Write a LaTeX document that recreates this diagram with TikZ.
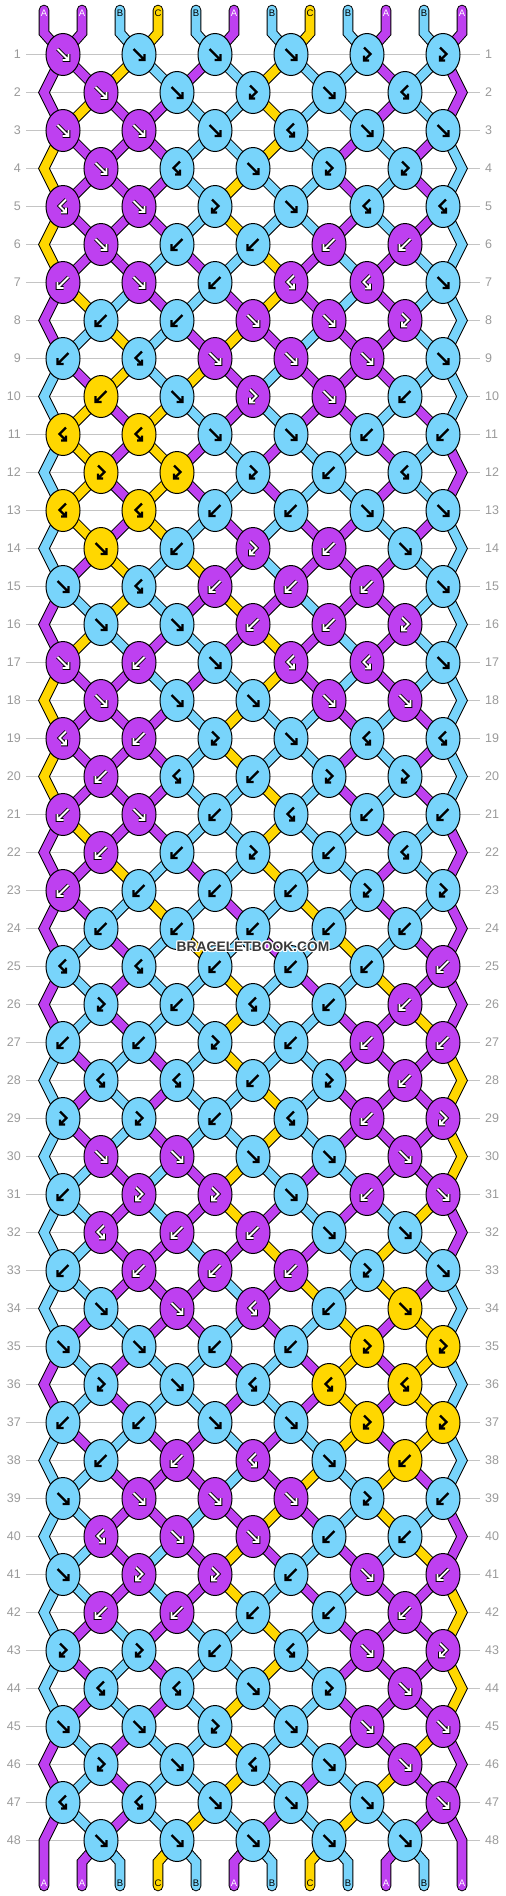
\documentclass[tikz,border=0pt]{standalone}
\usepackage{fontspec}
\setmainfont{Liberation Sans}
\usetikzlibrary{shapes.geometric}
\definecolor{cA}{HTML}{BE40F0}
\definecolor{cB}{HTML}{78D4FB}
\definecolor{cC}{HTML}{FFD700}
\definecolor{gridg}{HTML}{C4C4C4}
\definecolor{numg}{HTML}{9A9A9A}
\definecolor{wmg}{HTML}{383838}

% string colours after each row (row 0 = start)
\foreach \stt [count=\rr from 0] in {
{A,A,B,C,B,A,B,C,B,A,B,A},
{A,A,C,B,A,B,C,B,B,A,B,A},
{A,C,A,A,B,B,C,B,B,A,B,A},
{C,A,A,A,B,B,C,B,A,B,A,B},
{C,A,A,A,B,C,B,B,A,B,A,B},
{C,A,A,A,B,C,B,B,A,B,A,B},
{C,A,A,B,A,B,C,A,B,A,B,B},
{A,C,B,A,B,A,C,A,B,A,B,B},
{A,B,C,B,A,C,A,B,A,A,B,B},
{B,A,C,B,C,A,B,A,A,A,B,B},
{B,C,A,C,B,A,B,A,A,B,A,B},
{B,C,A,C,A,B,A,B,B,A,B,A},
{B,C,A,C,A,B,A,B,B,A,B,A},
{B,C,A,C,B,A,B,A,A,B,A,B},
{B,A,C,B,C,A,B,A,A,A,B,B},
{A,B,C,B,A,C,A,B,A,A,B,B},
{A,C,B,A,B,A,C,A,B,A,B,B},
{C,A,A,B,A,B,C,A,B,A,B,B},
{C,A,A,A,B,C,B,B,A,B,A,B},
{C,A,A,A,B,C,B,B,A,B,A,B},
{C,A,A,A,B,B,C,B,A,B,A,B},
{A,C,A,A,B,B,C,B,B,A,B,A},
{A,A,C,B,A,B,C,B,B,A,B,A},
{A,A,B,C,B,A,B,C,B,A,B,A},
{A,B,A,B,C,B,A,B,C,B,A,A},
{A,B,A,B,B,C,B,A,B,C,A,A},
{A,B,A,B,B,C,B,B,A,A,C,A},
{B,A,B,A,B,C,B,B,A,A,A,C},
{B,A,B,A,B,B,C,B,A,A,A,C},
{B,A,B,A,B,B,C,B,A,A,A,C},
{B,B,A,B,A,C,B,A,B,A,A,C},
{B,B,A,B,A,C,A,B,A,B,C,A},
{B,B,A,A,B,A,C,A,B,C,B,A},
{B,B,A,A,A,B,A,C,B,C,A,B},
{B,A,B,A,A,B,A,B,C,A,C,B},
{A,B,A,B,B,A,B,A,C,A,C,B},
{A,B,A,B,B,A,B,A,C,A,C,B},
{B,A,B,A,A,B,A,B,C,A,C,B},
{B,B,A,A,A,B,A,C,B,C,A,B},
{B,B,A,A,B,A,C,A,B,C,B,A},
{B,B,A,B,A,C,A,B,A,B,C,A},
{B,B,A,B,A,C,B,A,B,A,A,C},
{B,A,B,A,B,B,C,B,A,A,A,C},
{B,A,B,A,B,B,C,B,A,A,A,C},
{B,A,B,A,B,C,B,B,A,A,A,C},
{A,B,A,B,B,C,B,B,A,A,C,A},
{A,B,A,B,B,C,B,A,B,C,A,A},
{A,B,A,B,C,B,A,B,C,B,A,A},
{A,A,B,C,B,A,B,C,B,A,B,A}}{%
  \foreach \cl [count=\ii] in \stt {\expandafter\xdef\csname S-\rr-\ii\endcsname{\cl}}}

% knot types: f forward, b backward, p forward-backward, q backward-forward
\foreach \ktl [count=\rr] in {
{f,f,f,f,p,p},{f,f,p,f,q},{f,f,f,q,f,f},{f,q,f,p,p},{q,f,p,f,q,q},{f,b,b,b,b},
{b,f,b,q,q,f},{b,b,f,f,p},{b,q,f,f,f,f},{b,f,p,f,b},{q,q,f,f,b,b},{p,p,p,b,q},
{q,q,b,b,f,f},{f,b,p,b,f},{f,q,b,b,b,f},{f,f,b,b,p},{f,b,f,q,q,f},{f,f,f,f,f},
{q,b,p,f,q,q},{b,q,b,p,p},{b,f,b,q,b,b},{b,b,p,b,q},{b,b,b,b,p,p},{b,b,b,b,b},
{q,q,b,b,b,b},{p,b,q,b,b},{b,b,p,b,b,b},{q,q,b,p,b},{p,p,b,q,b,p},{f,f,f,f,f},
{b,p,p,f,b,f},{q,b,b,f,f},{b,b,b,b,p,f},{f,f,q,b,f},{f,f,b,b,p,p},{p,f,q,q,q},
{b,b,f,f,p,p},{b,b,q,f,b},{f,f,f,f,p,b},{q,f,f,b,b},{f,p,p,b,f,b},{b,b,b,b,b},
{p,p,b,q,f,p},{q,q,f,p,f},{f,f,p,f,f,f},{p,f,q,f,f},{q,q,f,f,f,f},{f,f,f,f,f}}{%
  \foreach \cl [count=\ii] in \ktl {\expandafter\xdef\csname T-\rr-\ii\endcsname{\cl}}}

\newcommand\getx[3]{%
  \pgfmathtruncatemacro\gxodd{mod(#1,2)}%
  \ifnum\gxodd=1
    \pgfmathsetmacro#3{63+76*floor((#2-1)/2)}%
  \else
    \ifnum#2=1 \def#3{44}%
    \else\ifnum#2=12 \def#3{462}%
    \else\pgfmathsetmacro#3{101+76*(floor(#2/2)-1)}%
    \fi\fi
  \fi}

\newcommand\drawglyph[4]{%
  \begin{scope}[shift={(#2,#3)}]%
  \if#1f\draw[#4] (-5.5,-5.5) -- (5.5,5.5) (5.5,-0.5) -- (5.5,5.5) -- (-0.5,5.5);\fi
  \if#1b\draw[#4] (5.5,-5.5) -- (-5.5,5.5) (-5.5,-0.5) -- (-5.5,5.5) -- (0.5,5.5);\fi
  \if#1p\draw[#4] (-3,-7) -- (3.5,-0.5) -- (-3,6) (-3,1) -- (-3,6) -- (2,6);\fi
  \if#1q\draw[#4] (3,-7) -- (-3.5,-0.5) -- (3,6) (3,1) -- (3,6) -- (-2,6);\fi
  \end{scope}}

\tikzset{
  knot/.style={ellipse, draw=black, line width=1pt, minimum width=34pt, minimum height=42pt, inner sep=0pt},
  str/.style={draw=black, line width=1pt, double=#1, double distance=8.6pt},
  numlab/.style={text=numg, font=\fontsize{12.5}{12.5}\selectfont, inner sep=0pt},
  letlab/.style={font=\fontsize{9.5}{9.5}\selectfont, inner sep=0pt},
  wm/.style={font=\bfseries\fontsize{13.8}{13.8}\selectfont, inner sep=0pt}
}

\begin{document}
\begin{tikzpicture}[x=1pt,y=-1pt]
\useasboundingbox (0,0) rectangle (506,1896);
\fill[white] (0,0) rectangle (506,1896);

% grid lines and row numbers
\foreach \rr in {1,...,48}{
  \pgfmathsetmacro\yy{54.5+38*(\rr-1)}
  \draw[gridg,line width=1pt] (26,\yy) -- (480,\yy);
  \node[numlab,anchor=east] (nl\rr) at (21,\yy) {\rr};
  \node[numlab,anchor=west] (nr\rr) at (485,\yy) {\rr};
}

% top strings
\foreach \ii in {1,...,12}{
  \pgfmathsetmacro\xs{44+38*(\ii-1)}
  \getx{1}{\ii}\xb
  \edef\cc{\csname S-0-\ii\endcsname}
  \draw[str=c\cc, line cap=round] (\xs,10) -- (\xs,33) -- (\xb,54.5);
}

% inner connectors
\foreach \rr in {1,...,47}{
  \pgfmathtruncatemacro\rn{\rr+1}
  \pgfmathsetmacro\ya{54.5+38*(\rr-1)}
  \pgfmathsetmacro\yb{\ya+38}
  \foreach \ii in {2,...,11}{
    \getx{\rr}{\ii}\xa
    \getx{\rn}{\ii}\xb
    \edef\cc{\csname S-\rr-\ii\endcsname}
    \draw[str=c\cc] (\xa,\ya) -- (\xb,\yb);
  }
}

% edge strings
\foreach \rr in {2,4,...,46}{
  \pgfmathtruncatemacro\rp{\rr-1}
  \pgfmathsetmacro\ya{54.5+38*(\rr-2)}
  \pgfmathsetmacro\yy{\ya+38}
  \pgfmathsetmacro\yb{\ya+76}
  \edef\cL{\csname S-\rp-1\endcsname}
  \edef\cR{\csname S-\rp-12\endcsname}
  \draw[str=c\cL, line join=miter] (63,\ya) -- (44,\yy) -- (63,\yb);
  \draw[str=c\cR, line join=miter] (443,\ya) -- (462,\yy) -- (443,\yb);
}
\edef\cL{\csname S-47-1\endcsname}
\edef\cR{\csname S-47-12\endcsname}
\draw[str=c\cL, line cap=round] (63,1802.5) -- (44,1840.5) -- (44,1886);
\draw[str=c\cR, line cap=round] (443,1802.5) -- (462,1840.5) -- (462,1886);

% bottom strings
\foreach \ii in {2,...,11}{
  \pgfmathsetmacro\xs{44+38*(\ii-1)}
  \getx{48}{\ii}\xa
  \edef\cc{\csname S-48-\ii\endcsname}
  \draw[str=c\cc, line cap=round] (\xa,1840.5) -- (\xs,1862) -- (\xs,1886);
}

% knots
\foreach \rr in {1,...,48}{
  \pgfmathtruncatemacro\rp{\rr-1}
  \pgfmathtruncatemacro\isodd{mod(\rr,2)}
  \pgfmathsetmacro\yy{54.5+38*(\rr-1)}
  \ifnum\isodd=1 \def\nk{6}\else\def\nk{5}\fi
  \foreach \kk in {1,...,\nk}{
    \edef\ktype{\csname T-\rr-\kk\endcsname}
    \ifnum\isodd=1
      \pgfmathtruncatemacro\lpos{2*\kk-1}\pgfmathsetmacro\xx{63+76*(\kk-1)}%
    \else
      \pgfmathtruncatemacro\lpos{2*\kk}\pgfmathsetmacro\xx{101+76*(\kk-1)}%
    \fi
    \def\kside{0}\if\ktype b\def\kside{1}\fi\if\ktype q\def\kside{1}\fi
    \pgfmathtruncatemacro\ci{\lpos+\kside}
    \edef\cc{\csname S-\rp-\ci\endcsname}
    \node[knot, fill=c\cc] (k\rr-\kk) at (\xx,\yy) {};
    \if\cc A
      \drawglyph{\ktype}{\xx}{\yy}{black,line width=3.6pt}
      \drawglyph{\ktype}{\xx}{\yy}{white,line width=1.8pt}
    \else
      \drawglyph{\ktype}{\xx}{\yy}{black,line width=2.2pt}
    \fi
  }
}

% string letters
\foreach \ii in {1,...,12}{
  \pgfmathsetmacro\xs{44+38*(\ii-1)}
  \edef\cc{\csname S-0-\ii\endcsname}
  \if\cc A\def\tc{white}\else\def\tc{black}\fi
  \node[letlab,text=\tc] (lt\ii) at (\xs,13) {\cc};
  \edef\cd{\csname S-48-\ii\endcsname}
  \if\cd A\def\td{white}\else\def\td{black}\fi
  \node[letlab,text=\td] (lb\ii) at (\xs,1883.5) {\cd};
}

% watermark
\foreach \dx/\dy [count=\n] in {1/0,-1/0,0/1,0/-1,1/1,1/-1,-1/1,-1/-1}{
  \node[wm,text=white] (wmh\n) at (253+\dx,947+\dy) {BRACELETBOOK.COM};
}
\node[wm,text=wmg] (wm) at (253,947) {BRACELETBOOK.COM};
\end{tikzpicture}
\end{document}
